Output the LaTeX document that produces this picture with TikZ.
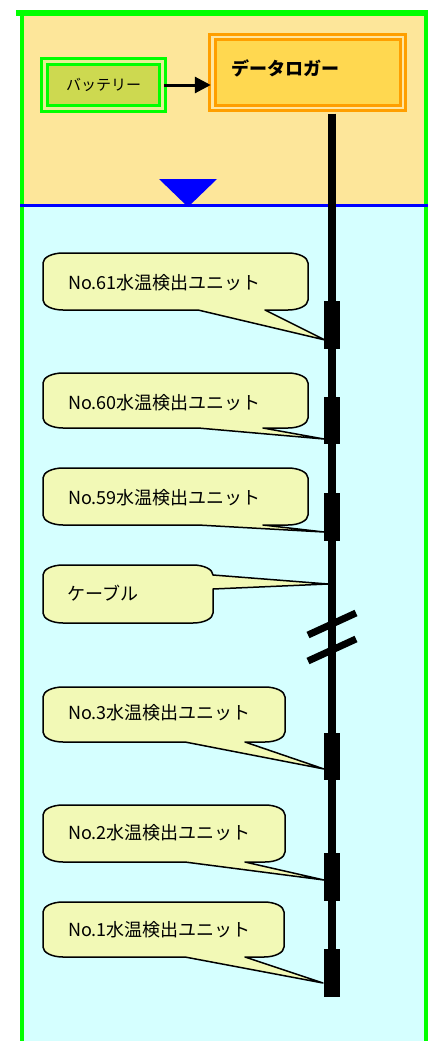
\documentclass[tikz,border=0pt]{standalone}
\usepackage{fontspec}
\newfontfamily\jp{Noto Sans CJK JP}
\usetikzlibrary{arrows.meta,calc}
\definecolor{peach}{HTML}{FDE69A}
\definecolor{water}{HTML}{D5FFFF}
\definecolor{framegreen}{HTML}{00FF00}
\definecolor{batt}{HTML}{CDD950}
\definecolor{battgap}{HTML}{E6EF96}
\definecolor{logfill}{HTML}{FFD850}
\definecolor{logline}{HTML}{FF9F00}
\definecolor{loggap}{HTML}{FFE6A0}
\definecolor{callfill}{HTML}{F2F9B6}
\definecolor{wblue}{HTML}{0000FF}
% L T R B baseA baseB tip
\newcommand\wcall[7]{%
\draw[callout] (#1+20,#2) -- (#3-20,#2)
  arc[start angle=270,end angle=360,x radius=20,y radius=10]
  -- (#3,#4-10)
  arc[start angle=0,end angle=90,x radius=20,y radius=10]
  -- (#6,#4) -- (#7) -- (#5,#4) -- (#1+20,#4)
  arc[start angle=90,end angle=180,x radius=20,y radius=10]
  -- (#1,#2+10)
  arc[start angle=180,end angle=270,x radius=20,y radius=10] -- cycle;}
\begin{document}
\begin{tikzpicture}[x=1pt,y=-1pt,
  callout/.style={draw=black,line width=1.5pt,fill=callfill,line join=round},
  ctext/.style={anchor=west,inner sep=0pt,font=\jp\fontsize{18}{21}\selectfont},
  unitblk/.style={fill=black,minimum width=16pt,minimum height=48pt,inner sep=0pt},
  cable/.style={line width=8pt},
  brk/.style={line width=7pt},
  battbox/.style={draw=framegreen,double=battgap,line width=3pt,double distance=3pt,
    fill=batt,minimum width=118pt,minimum height=47pt,inner sep=0pt,
    font=\jp\fontsize{15}{18}\selectfont},
  logbox/.style={draw=logline,double=loggap,line width=3pt,double distance=2.5pt,
    fill=logfill,minimum width=190.5pt,minimum height=70.5pt,inner sep=0pt}]
\useasboundingbox (0,0) rectangle (435,1041);
% background
\fill[white] (0,0) rectangle (435,1041);
\fill[peach] (24,16) rectangle (424,205);
\fill[water] (24,205) rectangle (424,1041);
\fill[framegreen] (16,10) rectangle (428,16);
\fill[framegreen] (20,10) rectangle (24,1041);
\fill[framegreen] (424,10) rectangle (428,1041);
\draw[wblue,line width=3pt] (20,205) -- (428,205);
\fill[wblue] (159,179) -- (217,179) -- (188,207) -- cycle;
% units
\node[unitblk] (u61) at (332,325) {};
\node[unitblk,minimum height=47pt] (u60) at (332,420.5) {};
\node[unitblk] (u59) at (332,517) {};
\node[unitblk,minimum height=47pt] (u3) at (332,756.5) {};
\node[unitblk] (u2) at (332,877) {};
\node[unitblk] (u1) at (332,973) {};
% logger and battery
\node[logbox] (logger) at (307.5,72.5) {};
\node[anchor=west,inner sep=0pt,font=\jp\bfseries\fontsize{18}{21}\selectfont] (logtext) at (231,68) {データロガー};
\node[battbox] (battery) at (103.5,85) {バッテリー};
\draw[line width=3pt,-{Triangle[length=16pt,width=16pt]}] (battery.east) -- (battery.east -| logger.west);
% cable
\draw[cable] ([yshift=-4.25pt]logger.south -| u1.center) -- (u1.south);
% break mark
\draw[brk] (308,635) -- (356,613);
\draw[brk] (308,661) -- (356,639);
% callouts
\coordinate (tip61) at (325,340);
\coordinate (tip60) at (324,439);
\coordinate (tip59) at (324,532);
\coordinate (tipc) at (328,584);
\coordinate (tip3) at (324,769);
\coordinate (tip2) at (324,880);
\coordinate (tip1) at (323,983);
\wcall{43}{253}{308}{310}{198}{265}{tip61}
\wcall{43}{373}{308}{428}{198}{263}{tip60}
\wcall{43}{468}{308}{525}{198}{263}{tip59}
\wcall{43}{687}{285}{742}{185}{245}{tip3}
\wcall{43}{805}{285}{862}{185}{245}{tip2}
\wcall{43}{902}{284}{957}{185}{245}{tip1}
\draw[callout] (63,565) -- (193,565)
  arc[start angle=270,end angle=360,x radius=20,y radius=10]
  -- (tipc) -- (213,589) -- (213,613)
  arc[start angle=0,end angle=90,x radius=20,y radius=10]
  -- (63,623)
  arc[start angle=90,end angle=180,x radius=20,y radius=10]
  -- (43,575)
  arc[start angle=180,end angle=270,x radius=20,y radius=10] -- cycle;
\node[ctext] (t61) at (68,283) {No.61水温検出ユニット};
\node[ctext] (t60) at (68,403) {No.60水温検出ユニット};
\node[ctext] (t59) at (68,498) {No.59水温検出ユニット};
\node[ctext] (tc) at (67,593) {ケーブル};
\node[ctext] (t3) at (68,713) {No.3水温検出ユニット};
\node[ctext] (t2) at (68,833) {No.2水温検出ユニット};
\node[ctext] (t1) at (68,930) {No.1水温検出ユニット};
\end{tikzpicture}
\end{document}
